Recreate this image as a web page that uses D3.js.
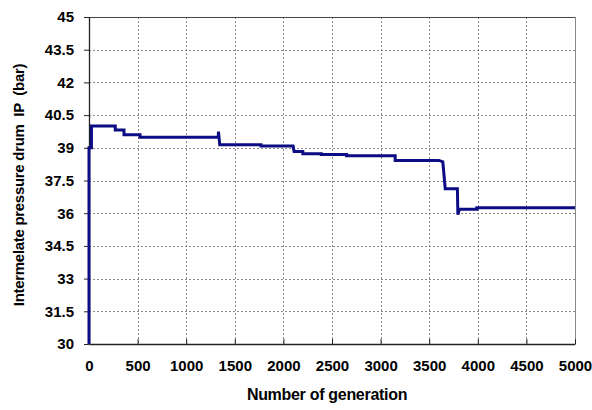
<!DOCTYPE html>
<html>
<head>
<meta charset="utf-8">
<script src="https://cdn.jsdelivr.net/npm/d3@7"></script>
<style>
  body { margin: 0; background: #fff; }
  text { font-family: Arial, "Liberation Sans", sans-serif; font-weight: bold; fill: #000; }
</style>
</head>
<body>
<div id="chart"></div>
<script>
// step history of IP drum pressure vs generation
var generations = [0, 0, 25, 25, 270, 270, 360, 360, 525, 525, 1330, 1332, 1345, 1770, 1770,
  2100, 2110, 2200, 2200, 2390, 2390, 2650, 2650, 3150, 3150, 3600, 3640, 3665, 3790, 3795,
  3810, 3990, 3990, 5000];
var pressures = [30, 39, 39, 40.0, 40.0, 39.82, 39.82, 39.6, 39.6, 39.48, 39.48, 39.74, 39.14, 39.14, 39.08,
  39.08, 38.83, 38.83, 38.73, 38.73, 38.69, 38.69, 38.63, 38.63, 38.42, 38.42, 38.36, 37.12, 37.12, 35.93,
  36.18, 36.18, 36.25, 36.25];
var xTicks = [0, 500, 1000, 1500, 2000, 2500, 3000, 3500, 4000, 4500, 5000];
var yTicks = [30, 31.5, 33, 34.5, 36, 37.5, 39, 40.5, 42, 43.5, 45];

var width = 592, height = 410,
    margin = {top: 17, right: 17, bottom: 66, left: 89};
var w = width - margin.left - margin.right,
    h = height - margin.top - margin.bottom;

var svg = d3.select("#chart").append("svg")
  .attr("width", width)
  .attr("height", height);

var g = svg.append("g").attr("transform", "translate(" + margin.left + "," + margin.top + ")");

var x = d3.scaleLinear().domain([0, 5000]).range([0, w]);
var y = d3.scaleLinear().domain([30, 45]).range([h, 0]);

//dashed grid
g.selectAll(".vgrid").data(xTicks.slice(1, -1)).enter().append("line")
  .attr("x1", function(d){ return Math.round(x(d)) + 0.5; })
  .attr("x2", function(d){ return Math.round(x(d)) + 0.5; })
  .attr("y1", 0).attr("y2", h)
  .attr("stroke", "#8a8a8a").attr("stroke-dasharray", "2,2");
g.selectAll(".hgrid").data(yTicks.slice(1, -1)).enter().append("line")
  .attr("y1", function(d){ return Math.round(y(d)) + 0.5; })
  .attr("y2", function(d){ return Math.round(y(d)) + 0.5; })
  .attr("x1", 0).attr("x2", w)
  .attr("stroke", "#8a8a8a").attr("stroke-dasharray", "2,2");

//frame top & right
g.append("line").attr("x1", 0).attr("x2", w).attr("y1", 0.5).attr("y2", 0.5)
  .attr("stroke", "#444");
g.append("line").attr("x1", w + 0.5).attr("x2", w + 0.5).attr("y1", 0).attr("y2", h)
  .attr("stroke", "#888");

//axes
var xAxis = g.append("g").attr("transform", "translate(0," + h + ")")
  .call(d3.axisBottom(x).tickValues(xTicks).tickSizeInner(-5).tickSizeOuter(0).tickPadding(16)
    .tickFormat(d3.format("d")));
var yAxis = g.append("g")
  .call(d3.axisLeft(y).tickValues(yTicks).tickSizeInner(5).tickSizeOuter(0).tickPadding(10)
    .tickFormat(function(d){ return String(d); }));

[xAxis, yAxis].forEach(function(a){
  a.select(".domain").attr("stroke", "#222").attr("stroke-width", 1.3);
  a.selectAll(".tick line").attr("stroke", "#222");
  a.selectAll("text").style("font-size", "15px").attr("fill", "#000");
});

//line
var pts = generations.map(function(d, i){ return [d, pressures[i]]; });
g.append("path")
  .datum(pts)
  .attr("fill", "none")
  .attr("stroke", "#0c0c84")
  .attr("stroke-width", 3)
  .attr("stroke-linejoin", "miter")
  .attr("d", d3.line().x(function(d){ return x(d[0]); }).y(function(d){ return y(d[1]); }));

//titles
svg.append("text")
  .attr("x", margin.left + w / 2 - 5)
  .attr("y", 400)
  .attr("text-anchor", "middle")
  .style("font-size", "16px")
  .style("letter-spacing", "-0.3px")
  .text("Number of generation");

svg.append("text")
  .attr("transform", "translate(24," + 185 + ") rotate(-90)")
  .attr("text-anchor", "middle")
  .style("font-size", "15px")
  .style("letter-spacing", "-0.3px")
  .style("white-space", "pre")
  .attr("xml:space", "preserve")
  .text("Intermelate pressure drum  IP  (bar)");
</script>
</body>
</html>
